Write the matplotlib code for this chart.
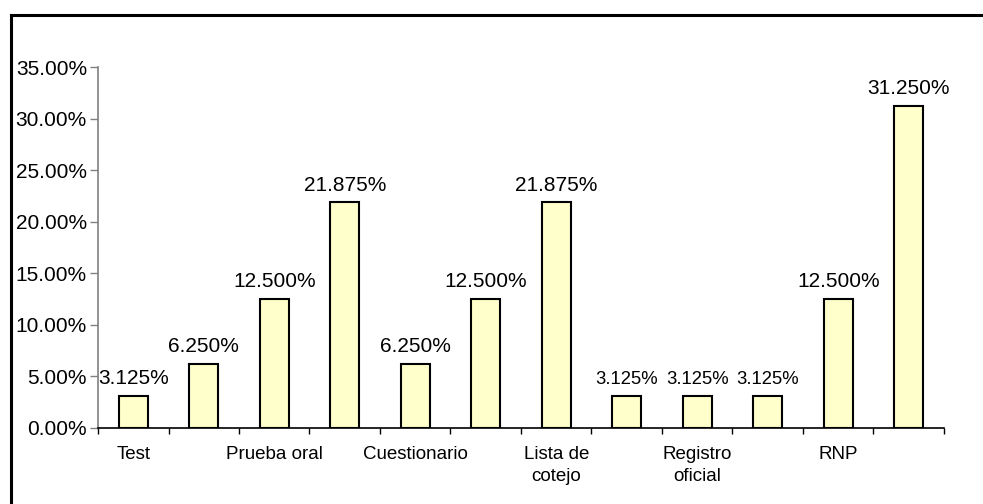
import matplotlib
matplotlib.use('Agg')
import matplotlib.pyplot as plt
from matplotlib.lines import Line2D
import numpy as np

plt.rcParams['font.family'] = ['Liberation Sans', 'DejaVu Sans']

# Data (percent)
categories = ['Test', '', 'Prueba oral', '', 'Cuestionario', '',
              'Lista de\ncotejo', '', 'Registro\noficial', '', 'RNP', '']
values = [3.125, 6.25, 12.5, 21.875, 6.25, 12.5,
          21.875, 3.125, 3.125, 3.125, 12.5, 31.25]
yticks = [0, 5, 10, 15, 20, 25, 30, 35]

fig = plt.figure(figsize=(9.83, 5.04), dpi=100)
ax = fig.add_axes([0.0997, 0.1508, 0.8606, 0.7162])

x = np.arange(len(values))
ax.bar(x, values, width=0.41, color='#FFFFCC', edgecolor='black', linewidth=1.5, zorder=2)

# value labels
for i, v in enumerate(values):
    size = 13.3 if i in (7, 8, 9) else 15
    ax.annotate(f'{v:.3f}%', (i, v), xytext=(0, 8.5), textcoords='offset points',
                ha='center', va='baseline', fontsize=size, clip_on=False)

ax.set_xlim(-0.5, len(values) - 0.5)
ax.set_ylim(0, 35)
ax.set_yticks(yticks)
ax.set_yticklabels([f'{t:.2f}%' for t in yticks], fontsize=15)

# boundary ticks as major, labels at centres as minor
ax.set_xticks(np.arange(-0.5, len(values), 1.0))
ax.set_xticklabels([])
ax.set_xticks(x, minor=True)
ax.set_xticklabels(categories, minor=True, fontsize=13.5, linespacing=1.4)
ax.tick_params(axis='x', which='major', length=4.5, width=1, color='black', direction='out')
ax.tick_params(axis='x', which='minor', length=0, pad=13)
ax.tick_params(axis='y', length=6, width=1, color='#808080', pad=2)

for s in ['top', 'right']:
    ax.spines[s].set_visible(False)
ax.spines['left'].set_color('#808080')
ax.spines['left'].set_linewidth(1.2)
ax.spines['bottom'].set_color('black')
ax.spines['bottom'].set_linewidth(1.2)

# chart frame (left and top edges only visible)
fig.add_artist(Line2D([11 / 983, 11 / 983], [0, 1 - 15 / 504], color='black', lw=2.2,
                      transform=fig.transFigure))
fig.add_artist(Line2D([11 / 983, 1], [1 - 15 / 504, 1 - 15 / 504], color='black', lw=2.2,
                      transform=fig.transFigure))

fig.savefig('out.png', dpi=100)
